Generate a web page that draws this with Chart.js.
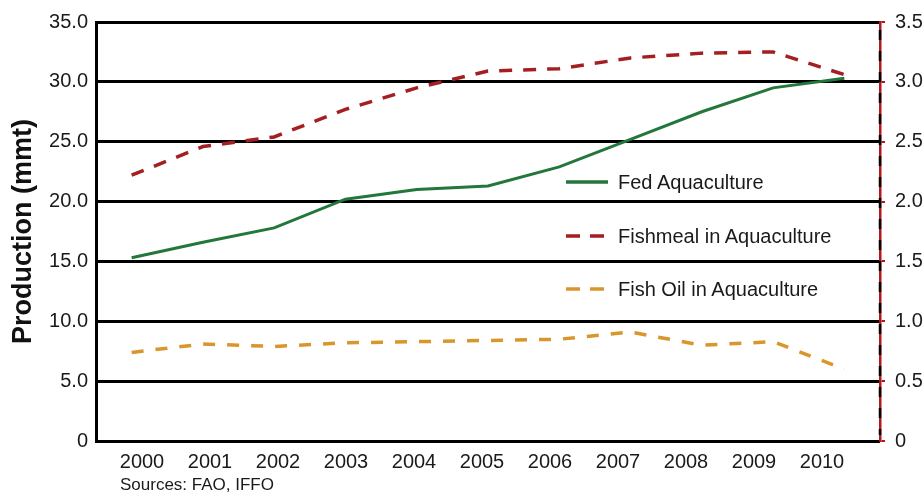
<!DOCTYPE html>
<html>
<head>
<meta charset="utf-8">
<script src="https://cdn.jsdelivr.net/npm/chart.js@4/dist/chart.umd.min.js"></script>
<style>
  body { margin: 0; background: #fff; }
  #wrap { position: relative; width: 923px; height: 496px; font-family: "Liberation Sans", Arial, sans-serif; }
  #legend { position: absolute; left: 566px; top: 170px; }
  .item { position: absolute; left: 0; white-space: nowrap; font-size: 20px; color: #1a1a1a; }
  .item svg { position: absolute; left: 0; top: 7px; }
  .item span { position: absolute; left: 52px; top: 0; line-height: 24px; }
  #source { position: absolute; left: 120px; top: 475px; font-size: 17px; color: #1a1a1a; }
</style>
</head>
<body>
<div id="wrap">
  <canvas id="chart"></canvas>
  <div id="legend"></div>
  <div id="source">Sources: FAO, IFFO</div>
</div>
<script>
const years = ['2000', '2001', '2002', '2003', '2004', '2005', '2006', '2007', '2008', '2009', '2010'];
// left axis, million metric tonnes
const fedAquaculture = [15.3, 16.6, 17.8, 20.2, 21.0, 21.3, 22.9, 25.2, 27.5, 29.5, 30.3];
// right axis
const fishmeal = [2.22, 2.46, 2.54, 2.77, 2.95, 3.09, 3.11, 3.20, 3.24, 3.25, 3.06];
const fishOil = [0.74, 0.81, 0.79, 0.82, 0.83, 0.84, 0.85, 0.91, 0.80, 0.83, 0.60];
const leftTicks = [0, 5, 10, 15, 20, 25, 30, 35];
const rightTicks = [0, 0.5, 1, 1.5, 2, 2.5, 3, 3.5];

const FONT = '"Liberation Sans", Arial, sans-serif';

// dashed black overlay on the red right axis
const rightAxisDash = {
  id: 'rightAxisDash',
  afterDraw(chart) {
    const s = chart.scales.y2;
    const ctx = chart.ctx;
    ctx.save();
    ctx.strokeStyle = '#000';
    ctx.lineWidth = 2.5;
    ctx.setLineDash([10, 11]);
    ctx.beginPath();
    ctx.moveTo(s.left, s.top + 8);
    ctx.lineTo(s.left, s.bottom - 6);
    ctx.stroke();
    ctx.restore();
  }
};

const ctx = document.getElementById('chart').getContext('2d');
const chart = new Chart(ctx, {
  type: 'line',
  data: {
    labels: years,
    datasets: [
      { label: 'Fed Aquaculture', data: fedAquaculture, yAxisID: 'y',
        borderColor: '#23773a', borderWidth: 3 },
      { label: 'Fishmeal in Aquaculture', data: fishmeal, yAxisID: 'y2',
        borderColor: '#a31f22', borderWidth: 3.5, borderDash: [13, 11] },
      { label: 'Fish Oil in Aquaculture', data: fishOil, yAxisID: 'y2',
        borderColor: '#d8962c', borderWidth: 3.5, borderDash: [12, 12] }
    ]
  },
  options: {
    responsive: true,
    maintainAspectRatio: false,
    animation: false,
    layout: { padding: { top: 16, left: 0, right: 0, bottom: 0 } },
    elements: { point: { radius: 0 }, line: { tension: 0 } },
    plugins: { legend: { display: false }, tooltip: { enabled: false } },
    scales: {
      x: { type: 'category', offset: true, display: false },
      // year labels sit on their own spacing in the original graphic
      xl: {
        type: 'linear', position: 'bottom',
        min: 2000 - 46 / 68, max: 2000 - 46 / 68 + 784 / 68,
        afterFit: (s) => { s.height = 55; },
        afterBuildTicks: (s) => { s.ticks = years.map(y => ({ value: +y })); },
        grid: { display: false, drawTicks: false },
        border: { display: false },
        ticks: { padding: 9, color: '#1a1a1a', font: { family: FONT, size: 20 },
                 callback: (v) => String(v) }
      },
      y: {
        position: 'left', min: 0, max: 35,
        afterFit: (s) => { s.width = 96; },
        afterBuildTicks: (s) => { s.ticks = leftTicks.map(v => ({ value: v })); },
        grid: { color: '#000', lineWidth: 3, drawTicks: false },
        border: { color: '#000', width: 3 },
        ticks: { padding: 8, color: '#1a1a1a', font: { family: FONT, size: 20 },
                 callback: (v) => v === 0 ? '0' : v.toFixed(1) },
        title: { display: true, text: 'Production (mmt)', color: '#111',
                 padding: { top: 7, bottom: 0 },
                 font: { family: FONT, size: 27, weight: 'bold' } }
      },
      y2: {
        position: 'right', min: 0, max: 3.5,
        afterFit: (s) => { s.width = 43; },
        afterBuildTicks: (s) => { s.ticks = rightTicks.map(v => ({ value: v })); },
        grid: { drawOnChartArea: false, color: '#b3161b', lineWidth: 2, tickLength: 5 },
        border: { color: '#b3161b', width: 2.5 },
        ticks: { padding: 10, color: '#1a1a1a', font: { family: FONT, size: 20 },
                 callback: (v) => v === 0 ? '0' : v.toFixed(1) }
      }
    }
  },
  plugins: [rightAxisDash]
});

// legend built from the datasets
const rowTops = [0, 54, 107];
const legend = document.getElementById('legend');
chart.data.datasets.forEach((ds, i) => {
  const item = document.createElement('div');
  item.className = 'item';
  item.style.top = rowTops[i] + 'px';
  const dash = ds.borderDash ? 'stroke-dasharray="14 10"' : '';
  item.innerHTML = '<svg width="42" height="10"><line x1="0" y1="5" x2="42" y2="5" stroke="' +
    ds.borderColor + '" stroke-width="3.5" ' + dash + '/></svg><span>' + ds.label + '</span>';
  legend.appendChild(item);
});
</script>
</body>
</html>
